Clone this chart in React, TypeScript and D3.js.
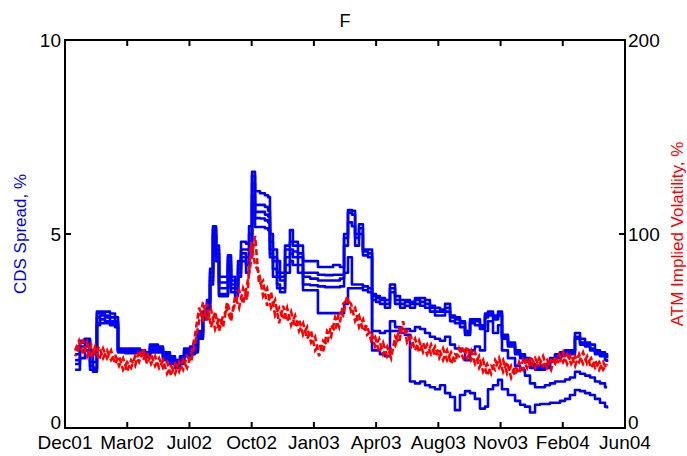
import React from "react";
import * as d3 from "d3";

// ---- data ----
const title = "F";
const xTickLabels = ["Dec01", "Mar02", "Jul02", "Oct02", "Jan03", "Apr03", "Aug03", "Nov03", "Feb04", "Jun04"];
const leftTicks = [0, 5, 10];
const rightTicks = [0, 100, 200];

// observation dates, months since Dec 2001
const cdsMonths = [0.54,0.80,1.07,1.34,1.50,1.71,1.88,2.14,2.41,2.68,2.84,3.21,3.75,4.02,4.29,4.55,4.98,5.25,5.62,5.89,6.16,6.38,6.70,6.96,7.12,7.39,7.61,7.77,7.93,8.09,8.25,8.57,8.73,8.89,9.11,9.27,9.43,9.70,9.86,10.02,10.18,10.45,10.71,10.88,10.98,11.14,11.36,11.52,11.79,12.05,12.21,12.48,12.75,13.13,13.55,13.93,14.36,14.73,14.95,15.16,15.37,15.54,15.75,15.96,16.23,16.45,16.66,16.87,17.14,17.41,17.68,17.95,18.21,18.48,18.75,19.02,19.29,19.55,19.82,20.09,20.36,20.63,20.89,21.16,21.43,21.70,21.96,22.23,22.50,22.66,22.93,23.20,23.41,23.73,24.11,24.38,24.64,24.91,25.18,25.45,25.71,25.98,26.25,26.52,26.79,27.05,27.32,27.59,27.86,28.13,28.39,28.66,28.93,29.04];

const cdsA = [2.05,2.25,2.3,2.0,1.9,3.0,3.0,3.0,2.95,2.85,2.05,2.05,2.05,2.0,1.95,2.15,2.1,1.95,1.85,1.75,1.85,2.05,2.1,2.15,2.5,3.0,3.3,4.1,5.2,4.7,3.9,3.9,4.45,3.9,3.8,4.3,4.8,4.75,5.2,6.6,
6.1,6.05,6.0,5.95,5.0,4.6,4.3,4.0,4.7,5.1,4.8,4.7,4.3,4.3,4.15,4.15,4.2,4.15,5.0,5.62,5.6,5.0,5.25,4.6,4.6,3.45,3.4,3.35,3.3,3.7,3.4,3.3,3.3,3.25,3.35,3.35,3.3,3.15,3.1,3.05,3.2,2.9,2.85,2.75,2.5,2.8,2.8,2.65,2.95,3.0,2.9,3.0,2.4,2.2,2.0,1.9,1.8,1.65,1.6,1.6,1.65,1.8,1.9,1.95,2.0,2.0,2.45,2.3,2.2,2.15,2.0,1.95,1.9,1.85];
const cdsB = [1.9,2.2,2.25,1.85,1.7,2.95,2.95,2.9,2.85,2.75,2.0,2.0,2.0,1.95,1.9,2.1,2.05,1.9,1.8,1.7,1.8,2.0,2.05,2.1,2.45,2.95,3.25,4.0,5.15,4.6,3.75,3.75,4.4,3.8,3.7,4.2,4.6,4.6,5.0,6.5,
5.75,5.75,5.7,5.6,4.8,4.4,4.0,3.9,4.6,4.8,4.7,4.5,4.0,4.0,3.95,3.94,3.95,3.95,4.9,5.55,5.5,4.9,5.15,4.55,4.5,3.4,3.35,3.3,3.2,3.6,3.3,3.2,3.25,3.2,3.3,3.25,3.2,3.1,3.0,3.0,3.1,2.85,2.8,2.7,2.45,2.75,2.75,2.6,2.9,2.95,2.85,2.95,2.35,2.15,1.95,1.85,1.75,1.6,1.55,1.55,1.6,1.75,1.85,1.9,1.95,1.95,2.35,2.2,2.15,2.05,1.95,1.9,1.85,1.8];
const cdsC = [1.75,2.1,2.2,1.7,1.55,2.85,2.9,2.85,2.75,2.7,2.0,1.97,1.97,1.92,1.88,2.05,2.0,1.85,1.75,1.65,1.75,1.95,2.0,2.05,2.4,2.9,3.2,3.9,5.1,4.5,3.6,3.6,4.3,3.7,3.6,4.1,4.5,4.4,4.8,6.3,
5.57,5.57,5.5,5.45,4.6,4.3,3.9,3.8,4.4,4.6,4.55,4.4,3.9,3.85,3.8,3.8,3.8,3.85,4.7,5.3,5.2,4.7,5.0,4.45,4.4,3.3,3.25,3.2,3.1,3.5,3.2,3.1,3.15,3.1,3.2,3.15,3.1,3.0,2.9,2.9,3.0,2.75,2.7,2.6,2.4,2.7,2.65,2.55,2.85,2.9,2.8,2.9,2.3,2.1,1.9,1.8,1.7,1.55,1.5,1.5,1.55,1.7,1.8,1.85,1.9,1.9,2.3,2.15,2.1,2.0,1.9,1.85,1.75,1.7];
const cdsD = [1.65,2.0,2.1,1.6,1.5,2.7,2.8,2.75,2.7,2.65,1.97,1.95,1.95,1.9,1.85,2.0,1.97,1.8,1.7,1.6,1.7,1.9,1.95,2.0,2.35,2.85,3.1,3.8,5.0,4.4,3.45,3.45,4.2,3.6,3.5,4.0,4.4,4.2,4.6,6.0,
5.41,5.4,5.35,5.3,4.5,4.1,3.7,3.6,4.2,4.5,4.4,4.2,3.7,3.68,3.65,3.63,3.63,3.65,4.0,4.4,3.7,3.7,3.7,3.65,3.6,2.5,2.5,2.45,2.5,2.75,2.6,2.55,2.55,2.5,2.6,2.55,2.45,2.35,2.3,2.25,2.35,2.15,2.05,2.0,1.75,2.0,2.1,2.0,2.5,2.75,2.45,2.65,2.0,1.8,1.6,1.5,1.35,1.15,1.05,1.05,1.1,1.15,1.2,1.2,1.25,1.3,1.45,1.4,1.35,1.3,1.2,1.15,1.05,1.05];
const cdsE = [1.5,1.8,2.0,1.5,1.45,2.65,2.7,2.7,2.65,2.6,1.95,1.93,1.93,1.88,1.82,1.95,1.95,1.75,1.65,1.55,1.65,1.85,1.9,1.95,2.3,2.8,3.05,3.7,4.95,4.3,3.4,3.4,4.1,3.5,3.4,3.9,4.3,4.0,4.4,5.8,
5.18,5.18,5.15,5.1,4.4,3.9,3.6,3.5,4.0,4.3,4.2,4.0,3.55,3.55,2.96,2.96,2.96,2.96,3.2,3.6,3.6,3.6,3.6,3.55,3.5,2.0,2.0,1.9,1.85,2.5,2.5,2.45,2.4,1.2,1.15,1.2,1.1,1.05,1.0,1.1,0.9,0.8,0.46,0.85,0.95,0.9,0.75,0.5,0.55,1.0,1.1,1.24,1.0,0.85,0.7,0.6,0.55,0.4,0.6,0.62,0.62,0.65,0.65,0.7,0.75,0.85,0.98,0.95,0.9,0.85,0.75,0.65,0.55,0.5];

// ATM implied volatility, %, weekly from first observation
const ivStartMonth = 0.54;
const ivStepMonths = 0.2143;
const ivA = [40,45,38,44,36,42,35,41,36,40,33,37,30,34,31,37,34,41,33,38,32,36,31,34,27,33,29,35,31,38,48,62,56,64,52,60,50,58,61,55,68,62,72,66,96,84,80,68,72,62,66,54,63,55,60,52,56,48,52,44,47,37,45,43,53,50,60,58,68,60,62,52,56,48,50,42,46,38,42,36,47,44,55,44,47,40,45,39,43,38,42,36,41,35,39,34,41,36,42,35,39,31,35,27,32,30,36,29,34,26,32,28,35,31,37,31,36,32,35,30,37,33,39,33,38,32,38,33,37,31,35,30,34,30];
const ivB = [37,42,45,37,43,38,42,36,40,35,38,32,36,29,35,32,40,35,39,33,37,31,35,28,32,28,34,30,37,34,44,55,65,55,61,51,57,52,65,58,64,71,64,74,86,99,74,76,63,70,58,62,56,62,53,58,50,54,46,50,40,43,39,50,47,57,52,64,66,64,55,58,50,53,45,47,39,44,37,41,42,51,48,50,42,46,39,44,38,43,37,41,35,40,33,38,37,42,36,40,33,37,29,33,28,35,31,35,28,32,27,34,30,36,31,36,32,37,31,35,33,38,34,38,33,37,34,39,33,36,31,34,30,33];

const cdsSeries = [cdsA, cdsB, cdsC, cdsD, cdsE];
const ivSeries = [ivA, ivB];

// ---- layout ----
const W = 687;
const H = 456;
const M = { left: 65, right: 62, top: 40, bottom: 28 };
const FONT = "'Liberation Sans', Arial, Helvetica, sans-serif";

export default function App() {
  const x = d3.scaleLinear().domain([0, 30]).range([M.left, W - M.right]);
  const yL = d3.scaleLinear().domain([0, 10]).range([H - M.bottom, M.top]);
  const yR = d3.scaleLinear().domain([0, 200]).range([H - M.bottom, M.top]);
  const xTicks = xTickLabels.map((_, i) => (i * 30) / (xTickLabels.length - 1));

  const blueLine = d3
    .line<[number, number]>()
    .x((d) => x(d[0]))
    .y((d) => yL(d[1]))
    .curve(d3.curveStepAfter);
  const redLine = d3
    .line<[number, number]>()
    .x((d) => x(d[0]))
    .y((d) => yR(d[1]));

  const x0 = M.left, x1 = W - M.right, y0 = M.top, y1 = H - M.bottom;
  const tl = 6;

  return (
    <svg width={W} height={H} style={{ position: "fixed", left: 0, top: 0, background: "#fff" }} fontFamily={FONT}>
      <rect x={0} y={0} width={W} height={H} fill="#fff" />
      <defs>
        <clipPath id="plot">
          <rect x={x0} y={y0} width={x1 - x0} height={y1 - y0} />
        </clipPath>
      </defs>
      <g clipPath="url(#plot)">
        {cdsSeries.map((s, k) => {
          const pts: [number, number][] = s
            .slice(0, cdsMonths.length)
            .map((v, i) => [cdsMonths[i], v]);
          return (
            <path key={"c" + k} d={blueLine(pts) || ""} fill="none" stroke="#0000ff" strokeWidth={2.6} strokeLinejoin="round" />
          );
        })}
        {ivSeries.map((s, k) => {
          const pts: [number, number][] = s.map((v, i) => [ivStartMonth + i * ivStepMonths, v]);
          return (
            <path key={"r" + k} d={redLine(pts) || ""} fill="none" stroke="#ff0000" strokeWidth={2.6} strokeDasharray="6,3" strokeDashoffset={k * 4} />
          );
        })}
      </g>
      {/* box */}
      <rect x={x0} y={y0} width={x1 - x0} height={y1 - y0} fill="none" stroke="#000" strokeWidth={2} />
      {/* x ticks */}
      {xTicks.map((t, i) => (
        <g key={"xt" + i}>
          <line x1={x(t)} x2={x(t)} y1={y1} y2={y1 - tl} stroke="#000" strokeWidth={2} />
          <line x1={x(t)} x2={x(t)} y1={y0} y2={y0 + tl} stroke="#000" strokeWidth={2} />
          <text x={x(t)} y={y1 + 21} textAnchor="middle" fontSize={19} fill="#000">
            {xTickLabels[i]}
          </text>
        </g>
      ))}
      {leftTicks.map((t) => (
        <g key={"yl" + t}>
          <line x1={x0} x2={x0 + tl} y1={yL(t)} y2={yL(t)} stroke="#000" strokeWidth={2} />
          <text x={x0 - 4} y={yL(t) + (t === 0 ? 1 : 7)} textAnchor="end" fontSize={19} fill="#000">
            {t}
          </text>
        </g>
      ))}
      {rightTicks.map((t) => (
        <g key={"yr" + t}>
          <line x1={x1} x2={x1 - tl} y1={yR(t)} y2={yR(t)} stroke="#000" strokeWidth={2} />
          <text x={x1 + 3} y={yR(t) + (t === 0 ? 1 : 7)} textAnchor="start" fontSize={19} fill="#000">
            {t}
          </text>
        </g>
      ))}
      <text x={(x0 + x1) / 2} y={27} textAnchor="middle" fontSize={18} fill="#000">
        {title}
      </text>
      <text transform={`translate(26,${(y0 + y1) / 2}) rotate(-90)`} textAnchor="middle" fontSize={17} fill="#0000ff">
        CDS Spread, %
      </text>
      <text transform={`translate(683,${(y0 + y1) / 2}) rotate(-90)`} textAnchor="middle" fontSize={17} fill="#ff0000">
        ATM Implied Volatility, %
      </text>
    </svg>
  );
}
